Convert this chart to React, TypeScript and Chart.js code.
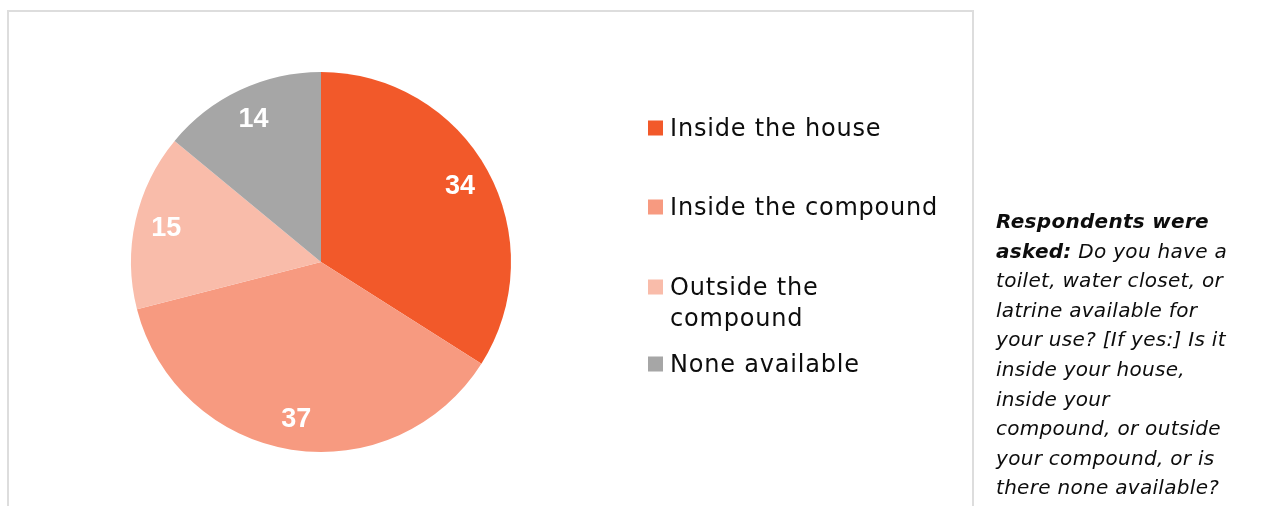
import React, { useEffect, useRef } from 'react';
import { Chart, registerables } from 'chart.js';

Chart.register(...registerables);

const categories = ['Inside the house', 'Inside the compound', 'Outside the compound', 'None available'];
const values = [34, 37, 15, 14];
const colors = ['#F2592A', '#F79A80', '#F9BCAA', '#A6A6A6'];

// [bold part, regular italic part] per printed line
const noteLines: [string, string][] = [
  ['Respondents were', ''],
  ['asked:', ' Do you have a'],
  ['', 'toilet, water closet, or'],
  ['', 'latrine available for'],
  ['', 'your use? [If yes:] Is it'],
  ['', 'inside your house,'],
  ['', 'inside your'],
  ['', 'compound, or outside'],
  ['', 'your compound, or is'],
  ['', 'there none available?'],
];

const FONT = '"DejaVu Sans", sans-serif';

const labelPlugin = {
  id: 'sliceLabels',
  afterDatasetsDraw(chart: any) {
    const ctx = chart.ctx;
    const meta = chart.getDatasetMeta(0);
    ctx.save();
    ctx.fillStyle = '#FFFFFF';
    ctx.font = `bold 27px "Liberation Sans", Arial, sans-serif`;
    ctx.textAlign = 'center';
    ctx.textBaseline = 'middle';
    meta.data.forEach((arc: any, i: number) => {
      const p = arc.getProps(['x', 'y', 'startAngle', 'endAngle', 'outerRadius'], true);
      const mid = (p.startAngle + p.endAngle) / 2;
      const r = p.outerRadius * 0.835;
      ctx.fillText(String(chart.data.datasets[0].data[i]), p.x + Math.cos(mid) * r, p.y + Math.sin(mid) * r + 1);
    });
    ctx.restore();
  },
};

const legendPlugin = {
  id: 'sideLegend',
  afterDraw(chart: any) {
    const ctx = chart.ctx;
    const labels: string[] = chart.data.labels;
    const bg: string[] = chart.data.datasets[0].backgroundColor;
    const rowY = [128, 207, 287, 364];
    const lineH = 31;
    const boxX = 648;
    const boxS = 15;
    const textX = 670;
    ctx.save();
    ctx.font = `24px ${FONT}`;
    (ctx as any).letterSpacing = '0.8px';
    ctx.textBaseline = 'middle';
    ctx.textAlign = 'left';
    const maxW = Math.max(...labels.filter((l) => l !== 'Outside the compound').map((l) => ctx.measureText(l).width)) + 2;
    labels.forEach((label, i) => {
      const words = label.split(' ');
      const lines: string[] = [];
      let cur = '';
      words.forEach((w) => {
        const t = cur ? cur + ' ' + w : w;
        if (ctx.measureText(t).width > maxW && cur) {
          lines.push(cur);
          cur = w;
        } else cur = t;
      });
      if (cur) lines.push(cur);
      const y0 = rowY[i];
      ctx.fillStyle = bg[i];
      ctx.fillRect(boxX, y0 - boxS / 2, boxS, boxS);
      ctx.fillStyle = '#0D0D0D';
      lines.forEach((ln, k) => ctx.fillText(ln, textX, y0 + 2 + k * lineH));
    });
    ctx.restore();
  },
};

export default function App() {
  const canvasRef = useRef<HTMLCanvasElement | null>(null);

  useEffect(() => {
    if (!canvasRef.current) return;
    const chart = new Chart(canvasRef.current, {
      type: 'pie',
      data: {
        labels: categories,
        datasets: [
          {
            data: values,
            backgroundColor: colors,
            borderWidth: 0,
          },
        ],
      },
      options: {
        responsive: false,
        animation: false,
        layout: { padding: { left: 131, right: 754, top: 72, bottom: 54 } },
        plugins: {
          legend: { display: false },
          tooltip: { enabled: false },
          title: { display: false },
        },
      },
      plugins: [labelPlugin, legendPlugin],
    });
    return () => chart.destroy();
  }, []);

  return (
    <div style={{ position: 'absolute', left: 0, top: 0, width: 1265, height: 506, overflow: 'hidden', background: '#FFFFFF' }}>
      <div
        style={{
          position: 'absolute',
          left: 7,
          top: 10,
          width: 967,
          height: 600,
          boxSizing: 'border-box',
          border: '2px solid #DDDDDD',
        }}
      />
      <canvas ref={canvasRef} width={1265} height={506} style={{ position: 'absolute', left: 0, top: 0, width: 1265, height: 506 }} />
      <div
        style={{
          position: 'absolute',
          left: 996,
          top: 207,
          fontFamily: FONT,
          fontStyle: 'italic',
          fontSize: 20,
          letterSpacing: '0.3px',
          lineHeight: '29.6px',
          color: '#0D0D0D',
          whiteSpace: 'nowrap',
        }}
      >
        {noteLines.map(([b, r], i) => (
          <div key={i}>
            {b ? <b>{b}</b> : null}
            {r}
          </div>
        ))}
      </div>
    </div>
  );
}
